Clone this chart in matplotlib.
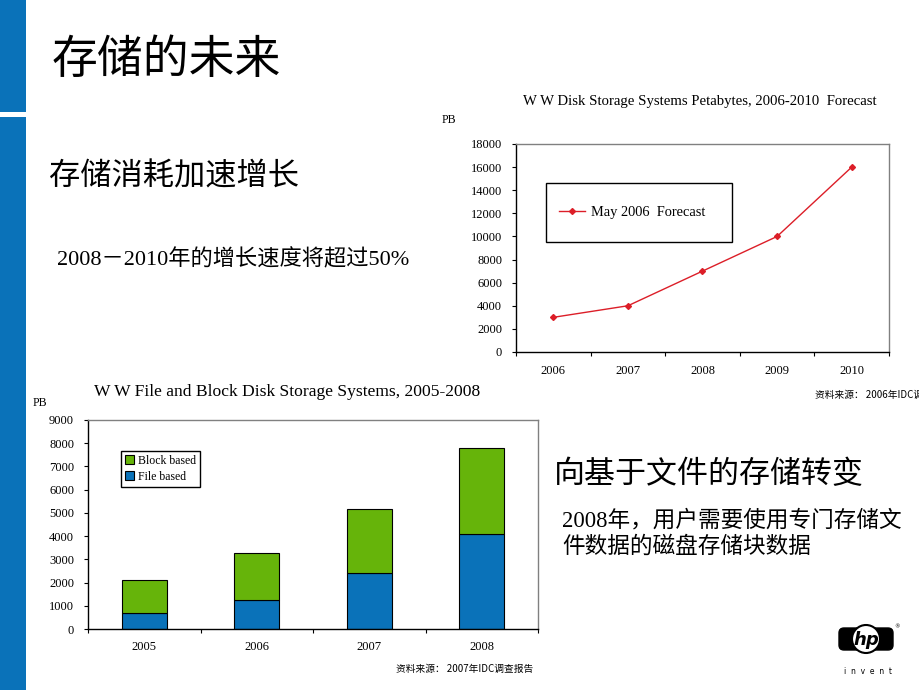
import matplotlib
matplotlib.use("Agg")
import matplotlib.pyplot as plt
from matplotlib.patches import Rectangle, FancyBboxPatch, Circle
import numpy as np

SERIF = ['Liberation Serif', 'Noto Sans CJK SC', 'DejaVu Sans']
CJK = ['Noto Sans CJK SC', 'Liberation Serif', 'DejaVu Sans']
plt.rcParams['font.family'] = SERIF

# ---- data ----
line_years = ['2006', '2007', '2008', '2009', '2010']
line_values = [3000, 4000, 7000, 10000, 16000]
line_series = 'May 2006  Forecast'

bar_years = ['2005', '2006', '2007', '2008']
file_based = [700, 1250, 2400, 4100]
block_based = [1400, 2020, 2770, 3700]

line_yticks = [0, 2000, 4000, 6000, 8000, 10000, 12000, 14000, 16000, 18000]
bar_yticks = [0, 1000, 2000, 3000, 4000, 5000, 6000, 7000, 8000, 9000]

HPBLUE = '#0A72B9'
GREEN = '#66B40A'
RED = '#DC1E28'

W, H = 920, 690
fig = plt.figure(figsize=(9.2, 6.9), dpi=100)

# background overlay in pixel coords
bg = fig.add_axes([0, 0, 1, 1], zorder=0)
bg.set_xlim(0, W)
bg.set_ylim(H, 0)
bg.axis('off')

bg.add_patch(Rectangle((0, 0), 26, 112, color=HPBLUE, lw=0))
bg.add_patch(Rectangle((0, 117), 26, H - 117, color=HPBLUE, lw=0))

bg.text(52, 60, '存储的未来', fontsize=33, family=CJK, va='center', ha='left')
bg.text(49, 177, '存储消耗加速增长', fontsize=22.5, family=CJK, va='center', ha='left')
bg.text(57, 260, '2008－2010年的增长速度将超过50%', fontsize=16, family=SERIF, va='center', ha='left')
bg.text(554, 475, '向基于文件的存储转变', fontsize=22.3, family=CJK, va='center', ha='left')
bg.text(562, 521, '2008年，用户需要使用专门存储文', fontsize=16.3, family=SERIF, va='center', ha='left')
bg.text(562, 547, '件数据的磁盘存储块数据', fontsize=16.3, family=SERIF, va='center', ha='left')

bg.text(700, 101, 'W W Disk Storage Systems Petabytes, 2006-2010  Forecast', fontsize=10.6,
        family=SERIF, va='center', ha='center')
bg.text(442, 120, 'PB', fontsize=8.5, family=SERIF, va='center', ha='left')
bg.text(287, 392, 'W W File and Block Disk Storage Systems, 2005-2008', fontsize=12.6,
        family=SERIF, va='center', ha='center')
bg.text(33, 403, 'PB', fontsize=8.5, family=SERIF, va='center', ha='left')
bg.text(815, 395, '资料来源： 2006年IDC调查报告', fontsize=7, family=CJK, va='center', ha='left')
bg.text(396, 669, '资料来源： 2007年IDC调查报告', fontsize=7, family=CJK, va='center', ha='left')

# HP logo
bg.add_patch(FancyBboxPatch((839, 628), 54, 22, boxstyle='round,pad=0,rounding_size=5',
                            fc='black', ec='black'))
bg.add_patch(Circle((866, 639), 14, fc='white', ec='black', lw=1.5))
bg.text(866, 640, 'hp', fontsize=13, style='italic', weight='bold', family='DejaVu Sans',
        va='center', ha='center', color='black')
bg.text(868, 672, 'i  n  v  e  n  t', fontsize=5.5, family='DejaVu Sans', va='center', ha='center')
bg.text(897, 627, '®', fontsize=4, family='DejaVu Sans', va='center', ha='center')

# ---- line chart ----
ax1 = fig.add_axes([516 / W, 1 - 352 / H, 373 / W, 208 / H], zorder=1)
x1 = np.arange(len(line_years))
ax1.plot(x1, line_values, color=RED, lw=1, marker='D', ms=3, label=line_series)
ax1.set_xlim(-0.5, len(line_years) - 0.5)
ax1.set_ylim(0, 18000)
ax1.set_xticks(x1)
ax1.set_xticklabels(line_years, fontsize=9)
ax1.set_xticks(np.arange(-0.5, len(line_years)), minor=True)
ax1.tick_params(axis='x', which='major', length=0, pad=9)
ax1.tick_params(axis='x', which='minor', length=3, direction='out', width=0.8)
ax1.set_yticks(line_yticks)
ax1.set_yticklabels([str(v) for v in line_yticks], fontsize=9)
ax1.tick_params(axis='y', length=3, direction='out', width=0.8, pad=7)
for s in ['left', 'bottom']:
    ax1.spines[s].set_color('black')
    ax1.spines[s].set_linewidth(1)
for s in ['top', 'right']:
    ax1.spines[s].set_color('#808080')
    ax1.spines[s].set_linewidth(1)
ax1.add_patch(Rectangle((0.08, 0.529), 0.499, 0.284, transform=ax1.transAxes,
                        fill=False, ec='black', lw=1, zorder=3))
leg1 = ax1.legend(loc='center left', bbox_to_anchor=(0.115, 0.671), frameon=False,
                  fontsize=10.4, handlelength=1.8, handletextpad=0.4, borderaxespad=0,
                  borderpad=0)

# ---- bar chart ----
ax2 = fig.add_axes([88 / W, 1 - 629 / H, 450 / W, 209 / H], zorder=1)
x2 = np.arange(len(bar_years))
ax2.bar(x2, file_based, width=0.4, color=HPBLUE, edgecolor='black', lw=0.8, label='File based')
ax2.bar(x2, block_based, width=0.4, bottom=file_based, color=GREEN, edgecolor='black', lw=0.8,
        label='Block based')
ax2.set_xlim(-0.5, len(bar_years) - 0.5)
ax2.set_ylim(0, 9000)
ax2.set_xticks(x2)
ax2.set_xticklabels(bar_years, fontsize=9)
ax2.set_xticks(np.arange(-0.5, len(bar_years)), minor=True)
ax2.tick_params(axis='x', which='major', length=0, pad=9)
ax2.tick_params(axis='x', which='minor', length=3, direction='out', width=0.8)
ax2.set_yticks(bar_yticks)
ax2.set_yticklabels([str(v) for v in bar_yticks], fontsize=9)
ax2.tick_params(axis='y', length=3, direction='out', width=0.8, pad=7)
for s in ['left', 'bottom']:
    ax2.spines[s].set_color('black')
    ax2.spines[s].set_linewidth(1)
for s in ['top', 'right']:
    ax2.spines[s].set_color('#808080')
    ax2.spines[s].set_linewidth(1)
handles, labels = ax2.get_legend_handles_labels()
leg2 = ax2.legend(handles[::-1], labels[::-1], loc='upper left', bbox_to_anchor=(0.073, 0.852),
                  fontsize=8.5, handlelength=0.8, handleheight=0.8, handletextpad=0.3,
                  borderpad=0.35, labelspacing=0.3, fancybox=False, edgecolor='black',
                  framealpha=1, borderaxespad=0)
leg2.get_frame().set_linewidth(1)

fig.savefig('out.png', dpi=100)
